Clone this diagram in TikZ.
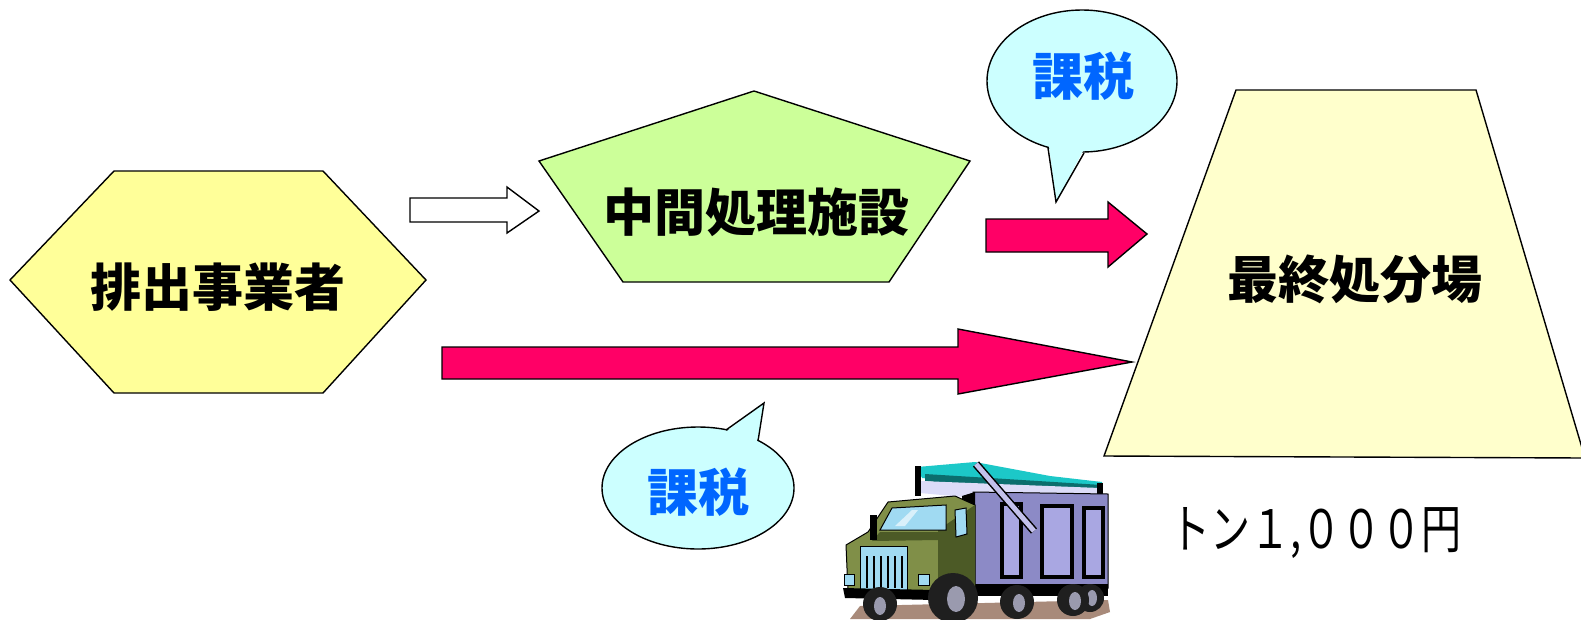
\documentclass[tikz,border=0pt]{standalone}
\usepackage{fontspec}
\newfontfamily\jp{Noto Sans CJK JP}
\definecolor{hexfill}{HTML}{FFFF99}
\definecolor{pentfill}{HTML}{CCFF99}
\definecolor{trapfill}{HTML}{FFFFCC}
\definecolor{bubblefill}{HTML}{CCFFFF}
\definecolor{taxred}{HTML}{FF0066}
\definecolor{taxblue}{HTML}{0066FF}
\definecolor{cabgreen}{HTML}{808F48}
\definecolor{cabdark}{HTML}{4C5A26}
\definecolor{boxpurple}{HTML}{8C8AC6}
\definecolor{boxlight}{HTML}{A9A7E2}
\definecolor{boxpale}{HTML}{DCDCF8}
\definecolor{canopy}{HTML}{1CC8C8}
\definecolor{canopydark}{HTML}{0B6E6E}
\definecolor{glass}{HTML}{A0DAF2}
\definecolor{hubgray}{HTML}{9A9AAE}
\definecolor{ground}{HTML}{A88A7A}
\begin{document}
\begin{tikzpicture}[x=1pt,y=-1pt,line join=miter,
  outline/.style={draw=black,line width=1.4pt},
  biglabel/.style={font=\jp\bfseries\fontsize{51}{56}\selectfont,inner sep=0pt},
  taxlabel/.style={biglabel,text=taxblue},
  truckline/.style={draw=black,line width=1pt}]
\fill[white] (0,0) rectangle (1581,619);
\useasboundingbox (0,0) rectangle (1581,619);

% emitter (hexagon)
\draw[outline,fill=hexfill] (10,280) -- (114,171) -- (323,171) -- (426,280) -- (323,393) -- (114,393) -- cycle;
\node[biglabel] (emitter) at (218,287) {排出事業者};

% intermediate treatment facility (pentagon)
\draw[outline,fill=pentfill] (754,91) -- (970,161) -- (889,282) -- (623,282) -- (539,161) -- cycle;
\node[biglabel] (midproc) at (756,212) {中間処理施設};

% final disposal site (trapezoid)
\draw[outline,fill=trapfill] (1236,90) -- (1476,90) -- (1585,458) -- (1104,456) -- cycle;
\node[biglabel] (landfill) at (1355,279) {最終処分場};

% hollow arrow: emitter -> facility
\draw[outline,fill=white] (410,198) -- (507,198) -- (507,187) -- (539,211) -- (507,233) -- (507,222) -- (410,222) -- cycle;

% taxed flow: facility -> landfill
\draw[outline,fill=taxred] (986,219) -- (1108,219) -- (1108,202) -- (1147,234) -- (1108,267) -- (1108,252) -- (986,252) -- cycle;

% taxed flow: emitter -> landfill
\draw[outline,fill=taxred] (442,347) -- (958,347) -- (958,329) -- (1132,362) -- (958,394) -- (958,379) -- (442,379) -- cycle;

% speech bubble (upper)
\draw[outline,fill=bubblefill] (1082,81) ellipse [x radius=95,y radius=71];
\fill[bubblefill] (1049,146) -- (1056,202) -- (1083,151) -- (1068,130) -- cycle;
\draw[outline] (1048,148) -- (1056,202) -- (1084,153);
\node[taxlabel] (taxtop) at (1083,76) {課税};

% speech bubble (lower)
\draw[outline,fill=bubblefill] (698,488) ellipse [x radius=96,y radius=61];
\fill[bubblefill] (727,431) -- (764,403) -- (757,442) -- (740,450) -- cycle;
\draw[outline] (726,430) -- (764,403) -- (758,441);
\node[taxlabel] (taxbottom) at (698,492) {課税};

% price label
\node[anchor=west,inner sep=0pt] (price) at (1170,533)
  {\scalebox{0.755}[1]{\jp\fontsize{53}{56}\selectfont トン１,０００円}};

% dump truck
\fill[ground] (860,606) -- (1108,600) -- (1110,612) -- (1090,619) -- (850,619) -- cycle;
% canopy
\fill[canopy] (917,467) -- (975,462) -- (1050,476) -- (1102,482) -- (1102,488) -- (990,484) -- (922,478) -- cycle;
\fill[canopydark] (925,474) -- (990,478) -- (1102,485) -- (1102,490) -- (985,486) -- (925,481) -- cycle;
\fill[boxpale] (920,481) -- (1100,488) -- (1100,496) -- (975,498) -- (920,493) -- cycle;
\fill[black] (915,466) rectangle (921,496);
\fill[black] (1097,483) rectangle (1103,494);
% cargo box
\draw[truckline,fill=boxpurple] (973,492) -- (1108,494) -- (1108,588) -- (973,590) -- cycle;
\fill[black] (962,496) -- (975,492) -- (975,590) -- (962,586) -- cycle;
\draw[draw=black,line width=4.5pt,fill=boxlight] (1002,504) rectangle (1021,577);
\draw[draw=black,line width=4.5pt,fill=boxlight] (1042,506) rectangle (1072,577);
\draw[draw=black,line width=4.5pt,fill=boxlight] (1084,508) rectangle (1103,577);
\fill[black] (975,584) rectangle (1108,596);
% tipping strut
\draw[black,line width=8pt] (976,464) -- (1034,531);
\draw[boxlight!70!white,line width=5pt] (976,464) -- (1034,531);
% cab
\draw[truckline,fill=cabgreen] (846,545) -- (868,532) -- (888,502) -- (955,496) -- (975,505) -- (975,594) -- (848,592) -- cycle;
\fill[cabdark] (938,530) -- (975,505) -- (975,594) -- (938,592) -- cycle;
\fill[cabdark] (880,532) -- (945,532) -- (938,540) -- (872,541) -- cycle;
\draw[truckline,fill=glass] (880,530) -- (892,508) -- (946,505) -- (946,530) -- cycle;
\fill[white!60!glass] (895,526) -- (912,510) -- (918,510) -- (905,526) -- cycle;
\draw[truckline,fill=glass] (955,510) -- (966,508) -- (967,534) -- (956,537) -- cycle;
\fill[black] (870,515) rectangle (877,540);
% grille and lamps
\draw[truckline,fill=glass] (860,546) rectangle (907,590);
\foreach \gx in {867,874,881,888,895,902}
  \draw[black,line width=2.4pt] (\gx,556) -- (\gx,588);
\draw[truckline,fill=glass] (844,574) rectangle (854,585);
\draw[truckline,fill=glass] (918,574) rectangle (929,585);
\fill[black] (843,588) -- (935,590) -- (935,600) -- (845,598) -- cycle;
% wheels
\fill[black!88] (880,604) circle [radius=17];
\fill[hubgray] (880,606) ellipse [x radius=6,y radius=9];
\fill[black!88] (953,598) circle [radius=25];
\fill[hubgray] (956,599) ellipse [x radius=9,y radius=13];
\fill[black!88] (1017,602) circle [radius=17];
\fill[hubgray] (1019,603) ellipse [x radius=6,y radius=9];
\fill[black!88] (1090,598) circle [radius=14];
\fill[hubgray] (1092,598) ellipse [x radius=5,y radius=8];
\fill[black!88] (1073,600) circle [radius=16];
\fill[hubgray] (1075,601) ellipse [x radius=6,y radius=9];
\end{tikzpicture}
\end{document}
